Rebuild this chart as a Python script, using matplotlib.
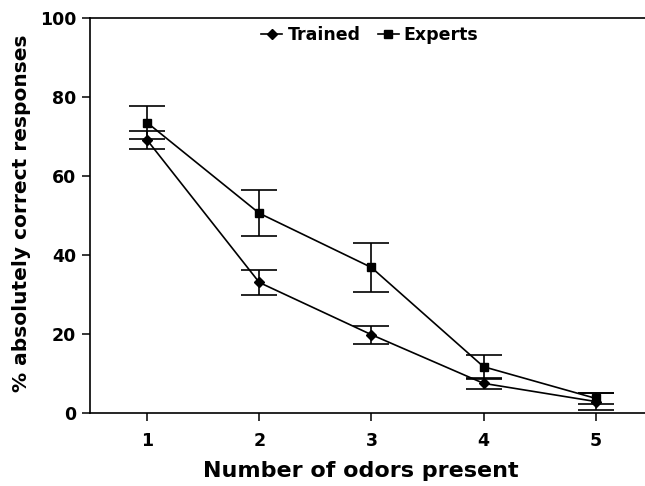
import matplotlib
matplotlib.use("Agg")
import matplotlib.pyplot as plt

odors = [1, 2, 3, 4, 5]
trained = [69.0, 33.0, 19.8, 7.5, 2.9]
trained_err = [2.3, 3.1, 2.3, 1.4, 2.1]
experts = [73.4, 50.5, 36.8, 11.7, 3.7]
experts_err = [4.2, 5.8, 6.3, 3.0, 1.3]
yticks = [0, 20, 40, 60, 80, 100]

plt.rcParams['font.family'] = ['DejaVu Sans']
plt.rcParams['font.weight'] = 'bold'

fig = plt.figure(figsize=(6.45, 4.86), dpi=100)
ax = fig.add_axes([90/645, 1-413/486, 1-90/645, (413-17.5)/486])

lw = 1.2
ax.errorbar(odors, trained, yerr=trained_err, fmt='none', ecolor='black',
            elinewidth=lw, capsize=13, capthick=lw)
ax.errorbar(odors, experts, yerr=experts_err, fmt='none', ecolor='black',
            elinewidth=lw, capsize=13, capthick=lw)
l1, = ax.plot(odors, trained, color='black', lw=lw, marker='D', markersize=5.5,
              label='Trained')
l2, = ax.plot(odors, experts, color='black', lw=lw, marker='s', markersize=6.3,
              label='Experts')

ax.set_xlim(0.49, 5.44)
ax.set_ylim(0, 100)
ax.set_xticks(odors)
ax.set_yticks(yticks)
ax.tick_params(direction='out', length=6, width=1.1, labelsize=12.5)
ax.tick_params(axis='x', pad=8)
ax.tick_params(axis='y', pad=4)
for lab in ax.get_xticklabels() + ax.get_yticklabels():
    lab.set_fontweight('bold')
ax.spines['right'].set_visible(False)
for s in ['left', 'top', 'bottom']:
    ax.spines[s].set_linewidth(1.2)

fig.text(361/645, 1-471/486, 'Number of odors present', fontsize=16,
         fontweight='bold', ha='center', va='center')
fig.text(22/645, 1-213/486, '% absolutely correct responses', fontsize=14.5,
         fontweight='bold', ha='center', va='center', rotation=90)

leg = ax.legend(handles=[l1, l2], loc='upper center', bbox_to_anchor=((370-90)/555, 1.0),
                bbox_transform=ax.transAxes, ncol=2, frameon=False, handlelength=1.2,
                handletextpad=0.3, columnspacing=1.0, fontsize=12.5, borderaxespad=0.1)
for t in leg.get_texts():
    t.set_fontweight('bold')

fig.savefig('out.png', dpi=100)
